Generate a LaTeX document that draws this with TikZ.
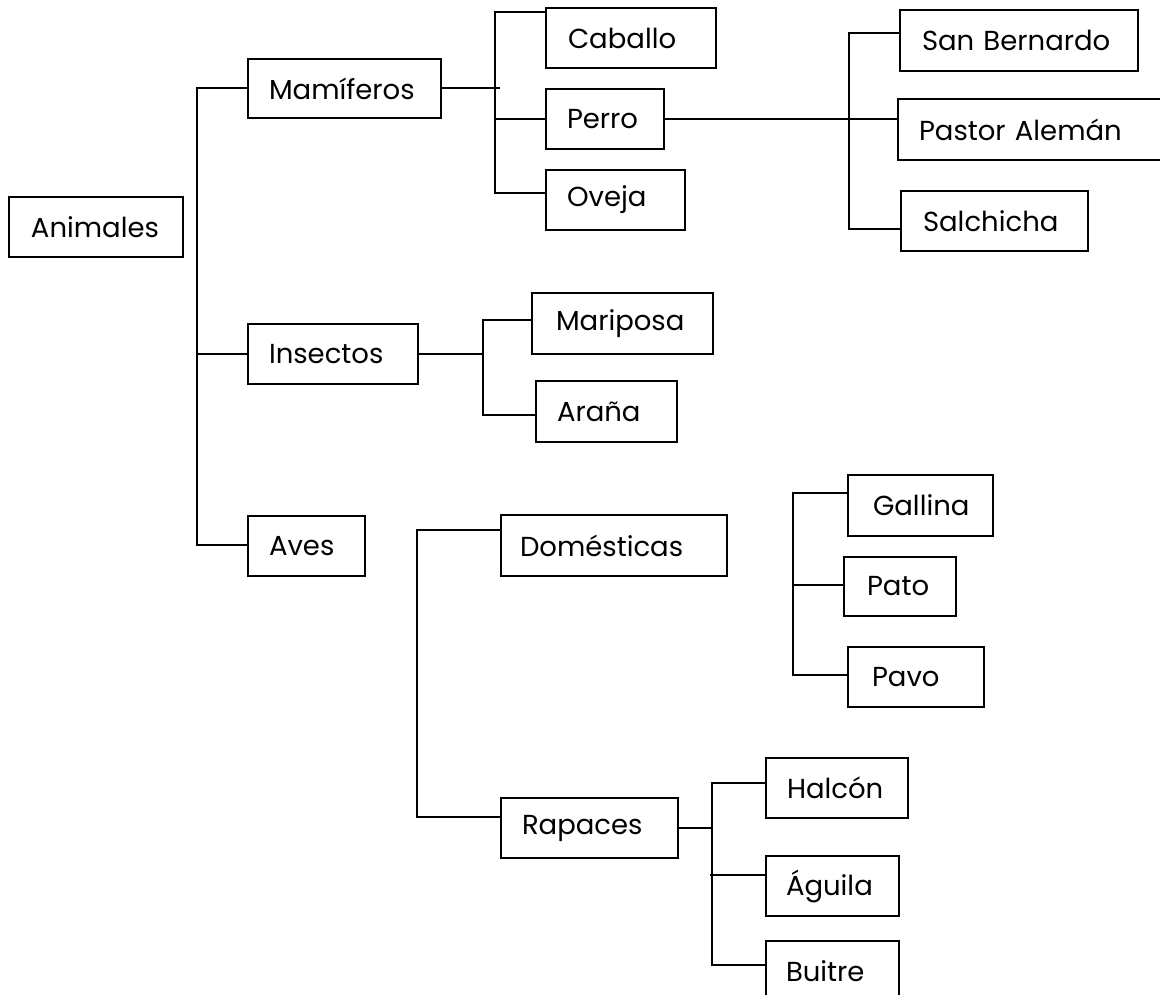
\documentclass[tikz,border=0pt]{standalone}
\usepackage{fontspec}
\setmainfont{Poppins}
\begin{document}
\begin{tikzpicture}[x=1pt,y=-1pt,
  box/.style={draw, line width=2pt, anchor=north west, inner xsep=0pt, inner ysep=0pt,
    align=left, font=\fontsize{27.5}{32}\selectfont},
  conn/.style={line width=2pt}]
\useasboundingbox (0,0) rectangle (1160,994);
\clip (0,0) rectangle (1160,994);
% boxes
\node[box, text width=174pt, minimum height=60pt] (ani) at (8,196) {\hspace*{22pt}Animales};
\node[box, text width=193pt, minimum height=59pt] (mam) at (247,58) {\hspace*{21pt}Mamíferos};
\node[box, text width=170pt, minimum height=60pt] (ins) at (247,323) {\hspace*{21pt}Insectos};
\node[box, text width=117pt, minimum height=60pt] (ave) at (247,515) {\hspace*{21pt}Aves};
\node[box, text width=170pt, minimum height=60pt] (cab) at (545,7) {\hspace*{22pt}Caballo};
\node[box, text width=118pt, minimum height=60pt] (per) at (545,88) {\hspace*{21pt}Perro};
\node[box, text width=139pt, minimum height=60pt] (ove) at (545,169) {\hspace*{21pt}Oveja};
\node[box, text width=238pt, minimum height=61pt] (sb) at (899,9) {\hspace*{22pt}San Bernardo};
\node[box, text width=266pt, minimum height=61pt] (pa) at (897,98) {\hspace*{21pt}Pastor Alemán};
\node[box, text width=187pt, minimum height=60pt] (sal) at (900,190) {\hspace*{22pt}Salchicha};
\node[box, text width=181pt, minimum height=61pt] (mar) at (531,292) {\hspace*{24pt}Mariposa};
\node[box, text width=141pt, minimum height=61pt] (ara) at (535,380) {\hspace*{21pt}Araña};
\node[box, text width=226pt, minimum height=61pt] (dom) at (500,514) {\hspace*{19pt}Domésticas};
\node[box, text width=177pt, minimum height=60pt] (rap) at (500,797) {\hspace*{21pt}Rapaces};
\node[box, text width=142pt, minimum height=60pt] (hal) at (765,757) {\hspace*{21pt}Halcón};
\node[box, text width=133pt, minimum height=60pt] (agu) at (765,855) {\hspace*{20pt}Águila};
\node[box, text width=133pt, minimum height=60pt] (bui) at (765,940) {\hspace*{20pt}Buitre};
\node[box, text width=145pt, minimum height=61pt] (gal) at (847,474) {\hspace*{25pt}Gallina};
\node[box, text width=112pt, minimum height=59pt] (pat) at (843,556) {\hspace*{23pt}Pato};
\node[box, text width=136pt, minimum height=60pt] (pav) at (847,646) {\hspace*{24pt}Pavo};
% bracket coordinates
\coordinate (t0) at (197,88);
\coordinate (t1) at (197,545);
\coordinate (m0) at (495,12);
\coordinate (m1) at (495,193);
\coordinate (m2) at (500,88);
\coordinate (p0) at (849,33);
\coordinate (p1) at (849,229);
\coordinate (i0) at (483,320);
\coordinate (i1) at (483,415);
\coordinate (a0) at (417,530);
\coordinate (a1) at (417,817);
\coordinate (r0) at (712,783);
\coordinate (r1) at (712,965);
\coordinate (r2) at (712,875);
\coordinate (g0) at (793,493);
\coordinate (g1) at (793,675);
\coordinate (g2) at (793,585);
% connectors
\draw[conn] (mam.west |- t0) -- (t0) -- (t1) -- (ave.west |- t1);
\draw[conn] (ins.west) -- (ins.west -| t0);
\draw[conn] (mam.east |- m2) -- (m2);
\draw[conn] (cab.west |- m0) -- (m0) -- (m1) -- (ove.west |- m1);
\draw[conn] (per.west) -- (per.west -| m0);
\draw[conn] (per.east) -- (pa.west |- per.east);
\draw[conn] (sb.west |- p0) -- (p0) -- (p1) -- (sal.west |- p1);
\draw[conn] (ins.east) -- (ins.east -| i0);
\draw[conn] (mar.west |- i0) -- (i0) -- (i1) -- (ara.west |- i1);
\draw[conn] (dom.west |- a0) -- (a0) -- (a1) -- (rap.west |- a1);
\draw[conn] (rap.east) -- (rap.east -| r0);
\draw[conn] (hal.west |- r0) -- (r0) -- (r1) -- (bui.west |- r1);
\draw[conn] (agu.west |- r2) -- ([xshift=-2pt]r2);
\draw[conn] (gal.west |- g0) -- (g0) -- (g1) -- (pav.west |- g1);
\draw[conn] (pat.west |- g2) -- (g2);
\end{tikzpicture}
\end{document}
